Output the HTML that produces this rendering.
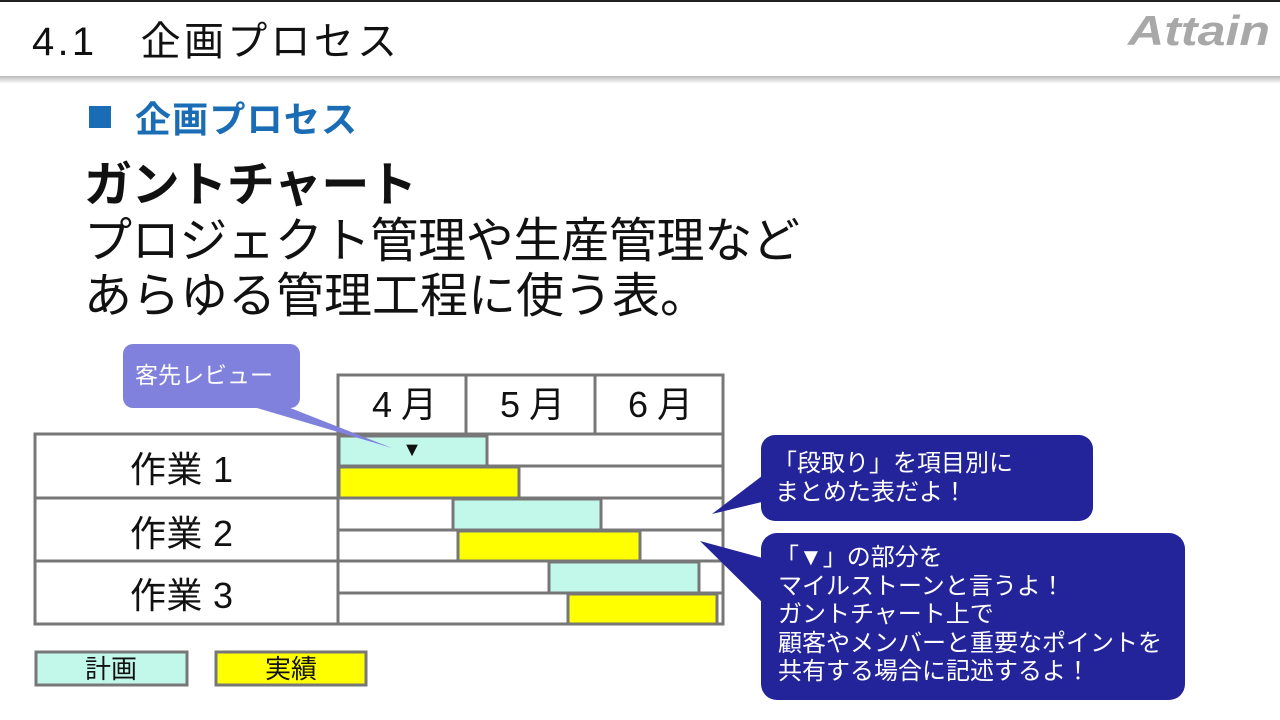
<!DOCTYPE html>
<html><head><meta charset="utf-8"><style>
body{margin:0;width:1280px;height:720px;overflow:hidden;background:#fff}
svg{display:block}
text{font-family:"Liberation Sans","Noto Sans CJK JP",sans-serif}
</style></head><body>
<svg width="1280" height="720" viewBox="0 0 1280 720">
<defs><linearGradient id="sh" x1="0" y1="0" x2="0" y2="1"><stop offset="0" stop-color="#bbb"/><stop offset="1" stop-color="#fff"/></linearGradient></defs>
<rect x="0" y="0" width="1280" height="2" fill="#222"/>
<rect x="0" y="76" width="1280" height="8" fill="url(#sh)"/>
<text x="32" y="55" font-size="40" fill="#111" textLength="365" lengthAdjust="spacing">4.1　企画プロセス</text>
<text x="1128" y="45" font-size="42" font-weight="bold" fill="#a8a8a8" font-style="italic" textLength="142" lengthAdjust="spacingAndGlyphs">Attain</text>
<rect x="89" y="106" width="22" height="22" fill="#1a6db5"/>
<text x="135" y="132" font-size="36" font-weight="bold" fill="#1a6db5" textLength="222" lengthAdjust="spacing">企画プロセス</text>
<text x="84" y="201" font-size="48" font-weight="bold" fill="#111" textLength="333" lengthAdjust="spacing">ガントチャート</text>
<text x="84" y="257" font-size="48" fill="#111" textLength="716" lengthAdjust="spacing">プロジェクト管理や生産管理など</text>
<text x="84" y="312" font-size="48" fill="#111">あらゆる管理工程に使う表。</text>

<g stroke="#777" stroke-width="3" fill="#fff">
<rect x="338" y="375" width="385" height="59"/>
<line x1="466" y1="375" x2="466" y2="434"/><line x1="595" y1="375" x2="595" y2="434"/>
<rect x="35" y="434" width="688" height="190"/>
<line x1="35" y1="498" x2="723" y2="498"/><line x1="35" y1="561" x2="723" y2="561"/>
<line x1="338" y1="434" x2="338" y2="624"/>
<line x1="338" y1="466" x2="723" y2="466"/><line x1="338" y1="530" x2="723" y2="530"/><line x1="338" y1="593" x2="723" y2="593"/>
</g>
<g stroke="#777" stroke-width="3">
<rect x="339" y="436" width="148" height="30" fill="#c2f8ea"/>
<rect x="339" y="467" width="180" height="31" fill="#ffff00"/>
<rect x="453" y="499" width="148" height="31" fill="#c2f8ea"/>
<rect x="458" y="531" width="182" height="30" fill="#ffff00"/>
<rect x="549" y="562" width="150" height="31" fill="#c2f8ea"/>
<rect x="568" y="594" width="149" height="30" fill="#ffff00"/>
<rect x="36" y="652" width="151" height="33" fill="#c2f8ea"/>
<rect x="216" y="652" width="150" height="33" fill="#ffff00"/>
</g>
<g font-size="36" fill="#111">
<text x="372" y="417" textLength="65" lengthAdjust="spacing">4月</text>
<text x="500" y="417" textLength="65" lengthAdjust="spacing">5月</text>
<text x="628" y="417" textLength="65" lengthAdjust="spacing">6月</text>
<text x="130" y="482" textLength="103" lengthAdjust="spacing">作業 1</text>
<text x="130" y="546" textLength="103" lengthAdjust="spacing">作業 2</text>
<text x="130" y="608" textLength="103" lengthAdjust="spacing">作業 3</text>
</g>
<g font-size="26" fill="#111" text-anchor="middle">
<text x="111" y="678">計画</text><text x="291" y="678">実績</text>
</g>
<text x="412" y="456" font-size="20" text-anchor="middle" fill="#111">▼</text>

<path d="M160,400 L270,400 L392,448 L230,400 Z" fill="#8080dd"/>
<rect x="123" y="344" width="177" height="64" rx="10" fill="#8080dd"/>
<text x="135" y="383" font-size="23" fill="#fff">客先レビュー</text>

<path d="M770,470 L770,500 L712,514 Z" fill="#24249a"/>
<rect x="761" y="435" width="332" height="86" rx="14" fill="#24249a"/>
<text font-size="24" fill="#fff"><tspan x="773" y="471">「段取り」を項目別に</tspan><tspan x="775" y="500">まとめた表だよ！</tspan></text>
<path d="M770,560 L770,610 L700,541 Z" fill="#24249a"/>
<rect x="761" y="533" width="424" height="167" rx="16" fill="#24249a"/>
<text font-size="24" fill="#fff"><tspan x="775" y="565">「▼」の部分を</tspan><tspan x="778" y="594">マイルストーンと言うよ！</tspan><tspan x="778" y="622">ガントチャート上で</tspan><tspan x="778" y="651">顧客やメンバーと重要なポイントを</tspan><tspan x="778" y="679">共有する場合に記述するよ！</tspan></text>
</svg>
</body></html>
